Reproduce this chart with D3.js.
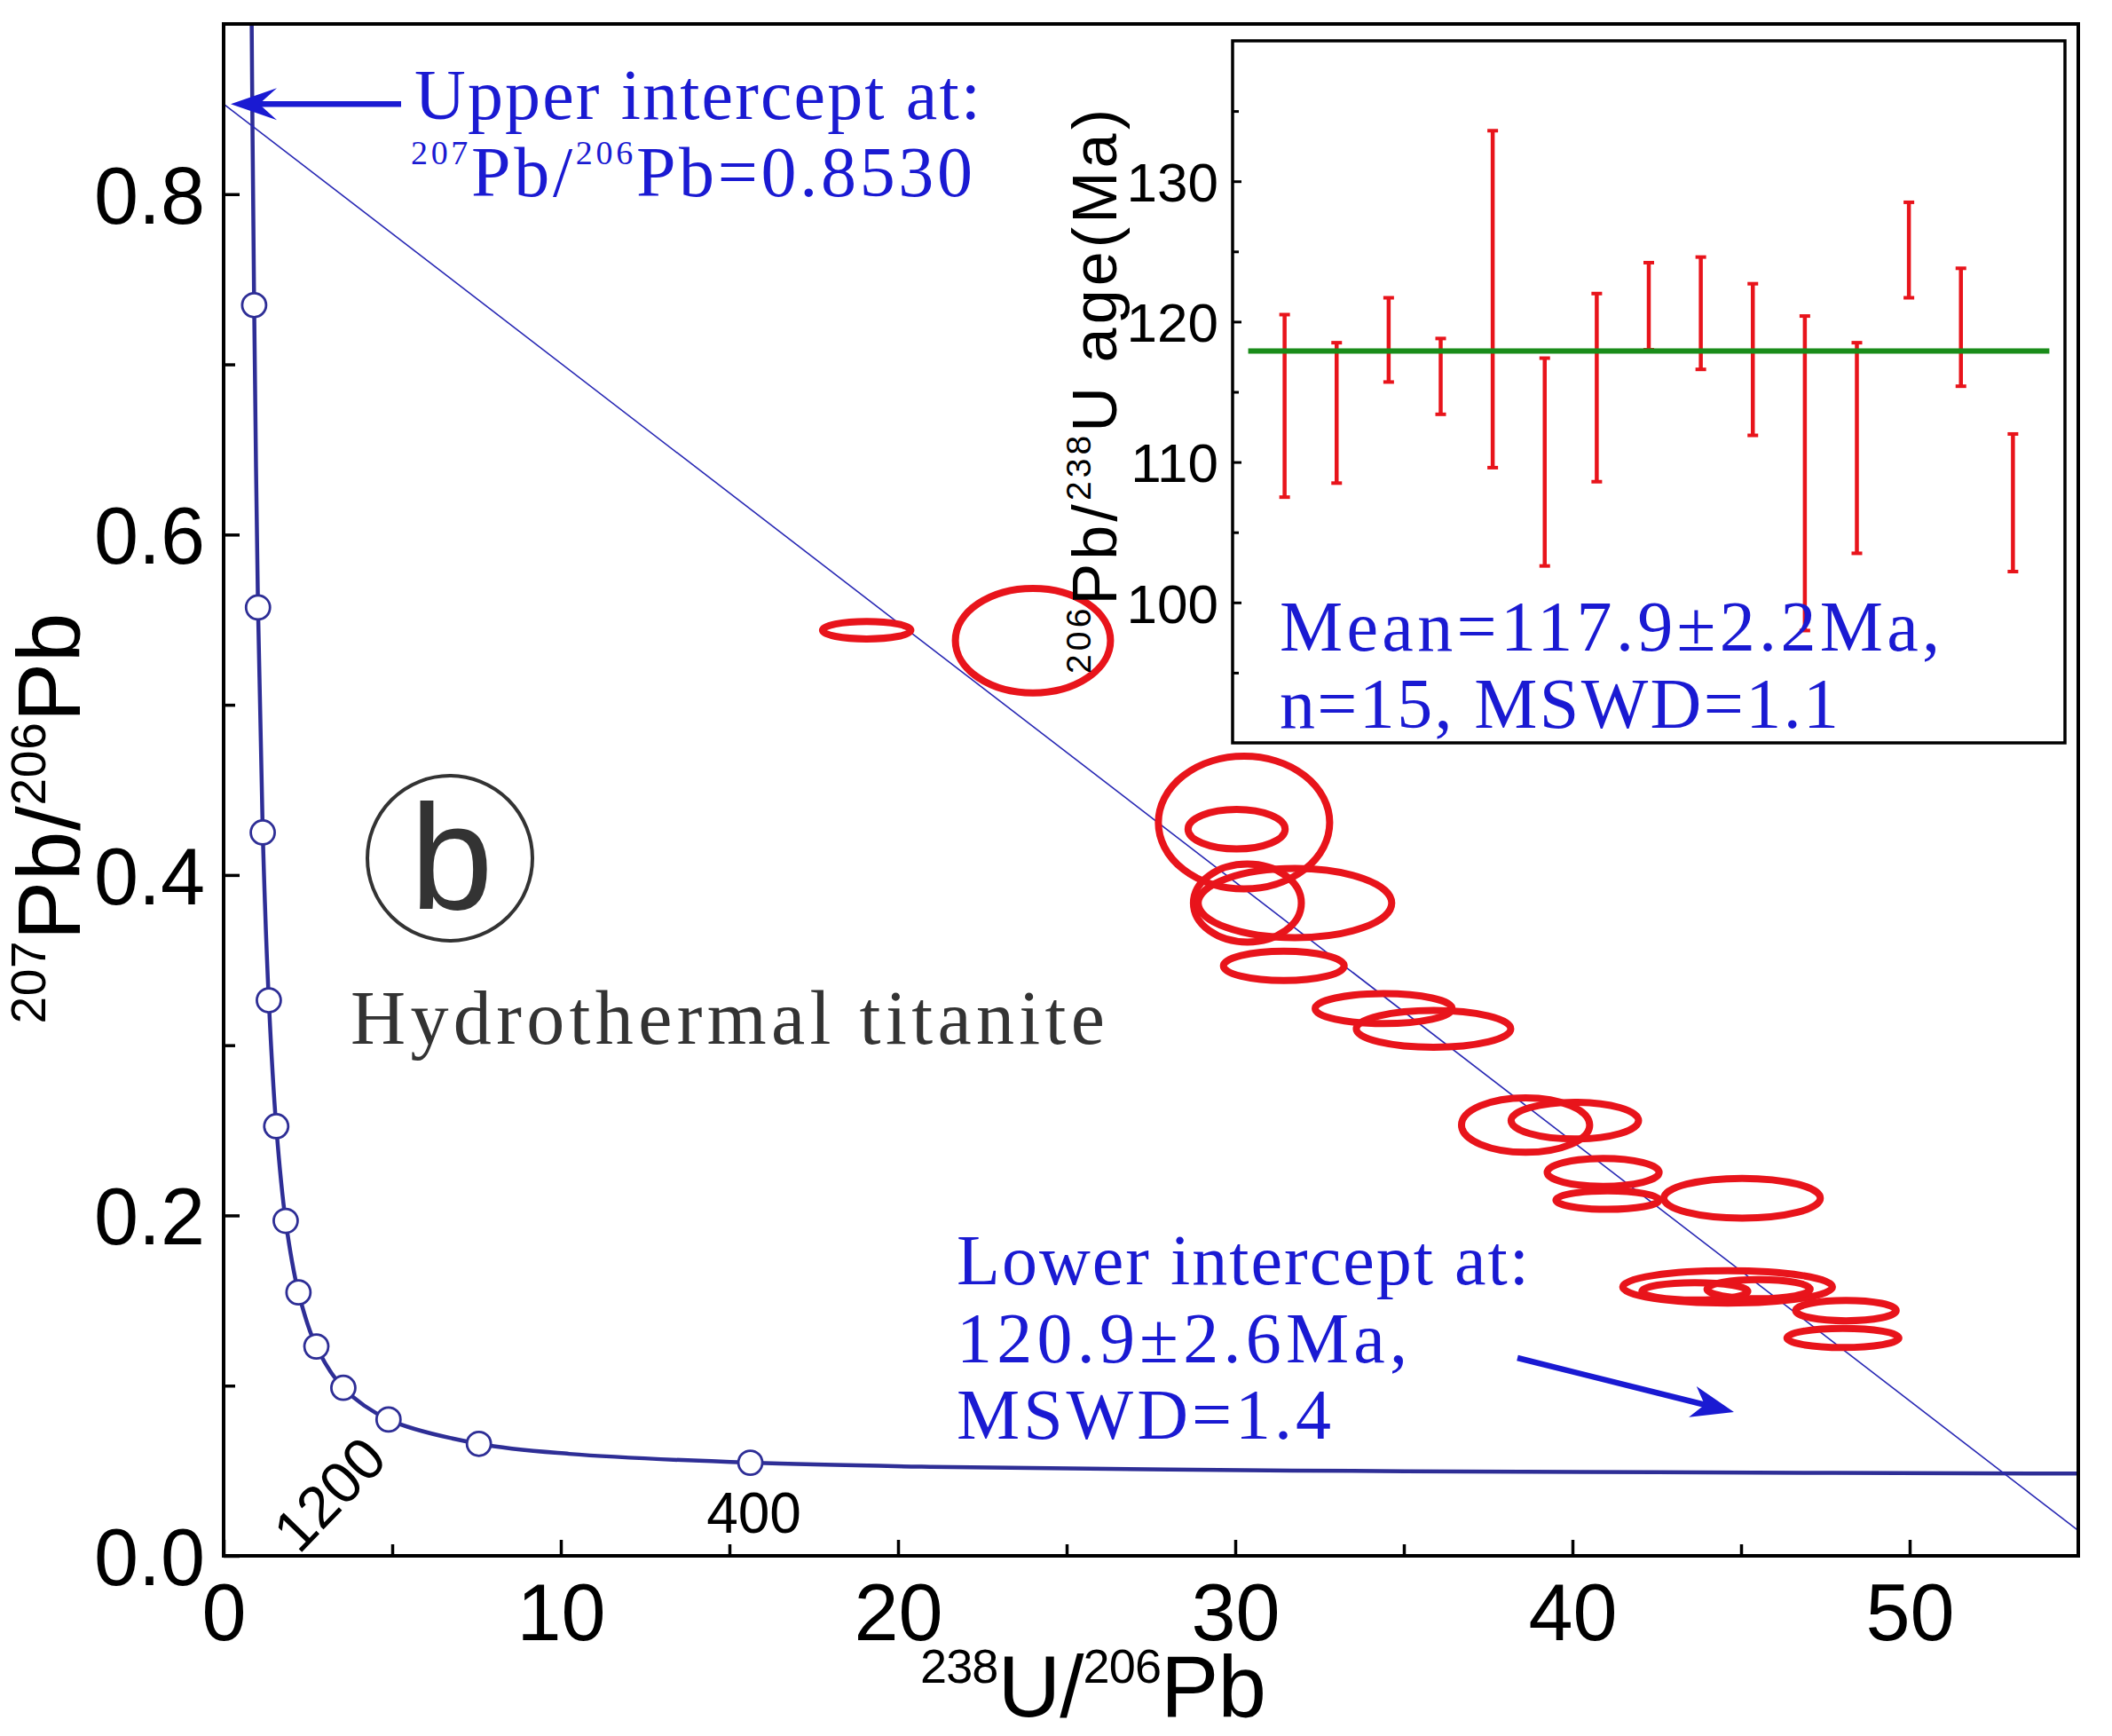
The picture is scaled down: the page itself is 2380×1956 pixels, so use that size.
<!DOCTYPE html>
<html>
<head>
<meta charset="utf-8">
<script src="https://cdn.jsdelivr.net/npm/d3@7.9.0/dist/d3.min.js"></script>
<style>
  html, body { margin: 0; padding: 0; background: #fff; }
  svg { display: block; }
</style>
</head>
<body>
<svg id="chart" width="2380" height="1956"></svg>
<script>
// concordia age marks (Ma) and where they sit on the plot
const concordiaAges = [400, 800, 1200, 1600, 2000, 2400, 2800, 3200, 3600, 4000, 4400, 4800];
const concordiaX = [15.62, 7.57, 4.89, 3.55, 2.75, 2.22, 1.84, 1.56, 1.34, 1.16, 1.02, 0.905];
const concordiaY = [0.0547, 0.0658, 0.0801, 0.0987, 0.1230, 0.1548, 0.1968, 0.2524, 0.3264, 0.4250, 0.5572, 0.7348];
// extra points (top end, flat tail)
const curveX = [0.83, 0.853, 10.25, 21.0, 31.7, 42.5, 55];
const curveY = [0.907, 0.845, 0.0599, 0.0523, 0.0501, 0.0491, 0.0483];
const labelledAges = [1200, 400];

// discordia: upper intercept on y axis, lower intercept on concordia
const upperIntercept = 0.853;
const lowerX = 52.8, lowerY = 0.0484;

// error ellipses: centre and semi-axes
const ellX  = [19.07, 24.00, 30.26, 30.04, 30.36, 31.77, 31.44, 34.40, 35.88, 38.61, 40.07, 40.91, 41.04, 45.03, 44.60, 43.63, 45.52, 48.11, 48.02];
const ellY  = [0.5438, 0.5377, 0.4308, 0.4269, 0.3835, 0.3835, 0.3466, 0.3215, 0.3096, 0.2531, 0.2557, 0.2253, 0.2090, 0.2101, 0.1580, 0.1554, 0.1567, 0.1441, 0.1280];
const ellRx = [1.31, 2.30, 2.54, 1.44, 1.60, 2.87, 1.79, 2.03, 2.29, 1.90, 1.89, 1.66, 1.53, 2.32, 3.11, 1.57, 1.53, 1.49, 1.66];
const ellRy = [0.0051, 0.0307, 0.0390, 0.0116, 0.0229, 0.0203, 0.0086, 0.0088, 0.0108, 0.0160, 0.0108, 0.0082, 0.0054, 0.0117, 0.0095, 0.0051, 0.0056, 0.0060, 0.0056];

// inset: 206Pb/238U ages with errors
const ageMean = [114.0, 113.5, 118.7, 116.1, 121.6, 110.0, 115.3, 121.1, 120.6, 117.3, 109.2, 111.0, 125.1, 119.6, 107.1];
const ageErr  = [6.5, 5.0, 3.0, 2.7, 12.0, 7.4, 6.7, 3.1, 4.0, 5.4, 11.2, 7.5, 3.4, 4.2, 4.9];
const weightedMean = 117.9;

const xTicks = [0, 10, 20, 30, 40, 50];
const xMinor = [5, 15, 25, 35, 45];
const yTicks = [0, 0.2, 0.4, 0.6, 0.8];
const yMinor = [0.1, 0.3, 0.5, 0.7];
const insetTicks = [100, 110, 120, 130];
const insetMinor = [95, 105, 115, 125, 135];

const svg = d3.select("#chart");
svg.append("rect").attr("width", 2380).attr("height", 1956).attr("fill", "#fff");

const L = 252, R = 2342, T = 27, B = 1753;
const x = d3.scaleLinear().domain([0, 55]).range([L, R]);
const y = d3.scaleLinear().domain([0, 0.9]).range([B, T]);

const NAVY = "#2e2e96";
const BLUE = "#1a1ad2";
const RED = "#e8141b";
const SANS = "'Liberation Sans', Arial, sans-serif";
const SERIF = "'Liberation Serif', 'Times New Roman', serif";

svg.append("defs").append("clipPath").attr("id", "plotClip")
  .append("rect").attr("x", L).attr("y", T).attr("width", R - L).attr("height", B - T);

// text with superscripts
function rich(g, parts, size, supSize, raise) {
  parts.forEach((p, i) => {
    let prevSup = i > 0 && parts[i - 1].sup;
    let dy = p.sup ? -raise : (prevSup ? raise : 0);
    g.append("tspan").attr("font-size", p.sup ? supSize : size).attr("dy", dy).text(p.t);
  });
  return g;
}

// axes
let xAxis = svg.append("g").attr("transform", `translate(0,${B})`)
  .call(d3.axisBottom(x).tickValues(xTicks).tickSizeInner(-18).tickSizeOuter(0).tickPadding(31));
svg.append("g").attr("transform", `translate(0,${B})`)
  .call(d3.axisBottom(x).tickValues(xMinor).tickSizeInner(-13).tickSizeOuter(0).tickFormat(""));
let yAxis = svg.append("g").attr("transform", `translate(${L},0)`)
  .call(d3.axisLeft(y).tickValues(yTicks).tickSizeInner(-18).tickSizeOuter(0).tickPadding(21).tickFormat(d3.format(".1f")));
svg.append("g").attr("transform", `translate(${L},0)`)
  .call(d3.axisLeft(y).tickValues(yMinor).tickSizeInner(-13).tickSizeOuter(0).tickFormat(""));
svg.selectAll(".domain").remove();
svg.selectAll(".tick line").attr("stroke", "#000").attr("stroke-width", 3.5);
svg.selectAll(".tick text").attr("font-family", SANS).attr("font-size", 90).attr("fill", "#000");
yAxis.selectAll(".tick text").attr("dy", "0.36em");

// concordia curve
const curvePts = concordiaX.map((d, i) => [d, concordiaY[i]])
  .concat(curveX.map((d, i) => [d, curveY[i]]))
  .sort((a, b) => a[0] - b[0]);
const plot = svg.append("g").attr("clip-path", "url(#plotClip)");
plot.append("path")
  .attr("d", d3.line().x(d => x(d[0])).y(d => y(d[1])).curve(d3.curveCatmullRom.alpha(0.5))(curvePts))
  .attr("fill", "none").attr("stroke", NAVY).attr("stroke-width", 4.5);

// discordia line
const slope = (lowerY - upperIntercept) / lowerX;
plot.append("line")
  .attr("x1", x(0)).attr("y1", y(upperIntercept))
  .attr("x2", x(56)).attr("y2", y(upperIntercept + slope * 56))
  .attr("stroke", "#2828b4").attr("stroke-width", 1.6);

// ellipses
plot.selectAll("ellipse.err")
  .data(ellX.map((d, i) => ({ cx: d, cy: ellY[i], rx: ellRx[i], ry: ellRy[i] })))
  .enter().append("ellipse").attr("class", "err")
  .attr("cx", d => x(d.cx)).attr("cy", d => y(d.cy))
  .attr("rx", d => x(d.rx) - x(0)).attr("ry", d => y(0) - y(d.ry))
  .attr("fill", "none").attr("stroke", RED).attr("stroke-width", 8);

// concordia markers
plot.selectAll("circle.age")
  .data(concordiaAges.map((a, i) => ({ a, cx: concordiaX[i], cy: concordiaY[i] })))
  .enter().append("circle").attr("class", "age")
  .attr("cx", d => x(d.cx)).attr("cy", d => y(d.cy)).attr("r", 13.5)
  .attr("fill", "#fff").attr("stroke", NAVY).attr("stroke-width", 2.8);

// age labels on concordia
const lab1200 = concordiaAges.indexOf(labelledAges[0]);
svg.append("text")
  .attr("transform", `translate(${x(concordiaX[lab1200]) - 50},${y(concordiaY[lab1200]) + 100}) rotate(-46)`)
  .attr("text-anchor", "middle").attr("font-family", SANS).attr("font-size", 66)
  .text(labelledAges[0]);
const lab400 = concordiaAges.indexOf(labelledAges[1]);
svg.append("text")
  .attr("x", x(concordiaX[lab400]) + 4).attr("y", 1727)
  .attr("text-anchor", "middle").attr("font-family", SANS).attr("font-size", 64)
  .text(labelledAges[1]);

// frame
svg.append("rect").attr("x", L).attr("y", T).attr("width", R - L).attr("height", B - T)
  .attr("fill", "none").attr("stroke", "#000").attr("stroke-width", 4);

// axis titles
rich(svg.append("text").attr("x", 1232).attr("y", 1934).attr("text-anchor", "middle")
  .attr("font-family", SANS).attr("textLength", 390).attr("lengthAdjust", "spacing"),
  [{ t: "238", sup: true }, { t: "U/" }, { t: "206", sup: true }, { t: "Pb" }], 98, 54, 38);
rich(svg.append("text").attr("transform", "translate(90,922) rotate(-90)").attr("text-anchor", "middle")
  .attr("font-family", SANS).attr("textLength", 463).attr("lengthAdjust", "spacing"),
  [{ t: "207", sup: true }, { t: "Pb/" }, { t: "206", sup: true }, { t: "Pb" }], 100, 55, 39);

// upper intercept annotation
const arrowY = y(upperIntercept);
svg.append("line").attr("x1", 452).attr("y1", arrowY).attr("x2", 290).attr("y2", arrowY)
  .attr("stroke", BLUE).attr("stroke-width", 6.5);
svg.append("path")
  .attr("d", `M${L + 8},${arrowY} L${L + 60},${arrowY - 18} L${L + 40},${arrowY} L${L + 60},${arrowY + 18} Z`)
  .attr("fill", BLUE);
svg.append("text").attr("x", 467).attr("y", 134).attr("font-family", SERIF).attr("font-size", 80)
  .attr("fill", BLUE).attr("textLength", 638).attr("lengthAdjust", "spacing").text("Upper intercept at:");
rich(svg.append("text").attr("x", 463).attr("y", 221).attr("font-family", SERIF).attr("fill", BLUE)
  .attr("textLength", 633).attr("lengthAdjust", "spacing"),
  [{ t: "207", sup: true }, { t: "Pb/" }, { t: "206", sup: true }, { t: "Pb=0.8530" }], 80, 38, 36);

// lower intercept annotation
svg.append("text").attr("x", 1078).attr("y", 1447).attr("font-family", SERIF).attr("font-size", 80)
  .attr("fill", BLUE).attr("textLength", 645).attr("lengthAdjust", "spacing").text("Lower intercept at:");
svg.append("text").attr("x", 1078).attr("y", 1535).attr("font-family", SERIF).attr("font-size", 80)
  .attr("fill", BLUE).attr("textLength", 508).attr("lengthAdjust", "spacing").text("120.9\u00B12.6Ma,");
svg.append("text").attr("x", 1078).attr("y", 1621).attr("font-family", SERIF).attr("font-size", 80)
  .attr("fill", BLUE).attr("textLength", 422).attr("lengthAdjust", "spacing").text("MSWD=1.4");
const ax1 = 1710, ay1 = 1530, ax2 = 1954, ay2 = 1591;
const ang = Math.atan2(ay2 - ay1, ax2 - ax1) * 180 / Math.PI;
svg.append("line").attr("x1", ax1).attr("y1", ay1).attr("x2", ax2 - 30).attr("y2", ay2 - 7.5)
  .attr("stroke", BLUE).attr("stroke-width", 6.5);
svg.append("path").attr("transform", `translate(${ax2},${ay2}) rotate(${ang})`)
  .attr("d", "M0,0 L-48,-18 L-34,0 L-48,18 Z").attr("fill", BLUE);

// panel mark and sample name
svg.append("circle").attr("cx", 507).attr("cy", 967).attr("r", 93)
  .attr("fill", "none").attr("stroke", "#333").attr("stroke-width", 4);
svg.append("text").attr("x", 509).attr("y", 1024).attr("text-anchor", "middle")
  .attr("font-family", SANS).attr("font-size", 168).attr("fill", "#333").text("b");
svg.append("text").attr("x", 395).attr("y", 1176).attr("font-family", SERIF).attr("font-size", 86)
  .attr("fill", "#333").attr("textLength", 850).attr("lengthAdjust", "spacing").text("Hydrothermal titanite");

// ---- inset ----
const iL = 1389, iR = 2327, iT = 46, iB = 837;
const ix = d3.scaleLinear().domain([0, 16]).range([iL, iR]);
const iy = d3.scaleLinear().domain([90, 140]).range([iB, iT]);
const inset = svg.append("g");
inset.append("rect").attr("x", iL).attr("y", iT).attr("width", iR - iL).attr("height", iB - iT)
  .attr("fill", "#fff").attr("stroke", "#000").attr("stroke-width", 3.5);

let iAxis = inset.append("g").attr("transform", `translate(${iL},0)`)
  .call(d3.axisLeft(iy).tickValues(insetTicks).tickSizeInner(-10).tickSizeOuter(0).tickPadding(16));
inset.append("g").attr("transform", `translate(${iL},0)`)
  .call(d3.axisLeft(iy).tickValues(insetMinor).tickSizeInner(-7).tickSizeOuter(0).tickFormat(""));
inset.selectAll(".domain").remove();
inset.selectAll(".tick line").attr("stroke", "#000").attr("stroke-width", 3);
iAxis.selectAll(".tick text").attr("font-family", SANS).attr("font-size", 62).attr("fill", "#000").attr("dy", "0.36em");

const bars = ageMean.map((m, i) => ({ i: i + 1, lo: m - ageErr[i], hi: m + ageErr[i] }));
const bg = inset.selectAll("g.bar").data(bars).enter().append("g").attr("class", "bar");
bg.append("line").attr("x1", d => ix(d.i)).attr("x2", d => ix(d.i))
  .attr("y1", d => iy(d.hi)).attr("y2", d => iy(d.lo)).attr("stroke", RED).attr("stroke-width", 4.5);
bg.append("line").attr("x1", d => ix(d.i) - 6).attr("x2", d => ix(d.i) + 6)
  .attr("y1", d => iy(d.hi)).attr("y2", d => iy(d.hi)).attr("stroke", RED).attr("stroke-width", 4);
bg.append("line").attr("x1", d => ix(d.i) - 6).attr("x2", d => ix(d.i) + 6)
  .attr("y1", d => iy(d.lo)).attr("y2", d => iy(d.lo)).attr("stroke", RED).attr("stroke-width", 4);

inset.append("line").attr("x1", ix(0.3)).attr("x2", ix(15.7))
  .attr("y1", iy(weightedMean)).attr("y2", iy(weightedMean))
  .attr("stroke", "#1a8c1a").attr("stroke-width", 6);

inset.append("text").attr("x", 1442).attr("y", 733).attr("font-family", SERIF).attr("font-size", 80)
  .attr("fill", BLUE).attr("textLength", 744).attr("lengthAdjust", "spacing").text("Mean=117.9\u00B12.2Ma,");
inset.append("text").attr("x", 1442).attr("y", 820).attr("font-family", SERIF).attr("font-size", 80)
  .attr("fill", BLUE).attr("textLength", 630).attr("lengthAdjust", "spacing").text("n=15, MSWD=1.1");

rich(svg.append("text").attr("transform", "translate(1258,441) rotate(-90)").attr("text-anchor", "middle")
  .attr("font-family", SANS).attr("textLength", 636).attr("lengthAdjust", "spacing"),
  [{ t: "206", sup: true }, { t: "Pb/" }, { t: "238", sup: true }, { t: "U age(Ma)" }], 70, 39, 29);
</script>
</body>
</html>
